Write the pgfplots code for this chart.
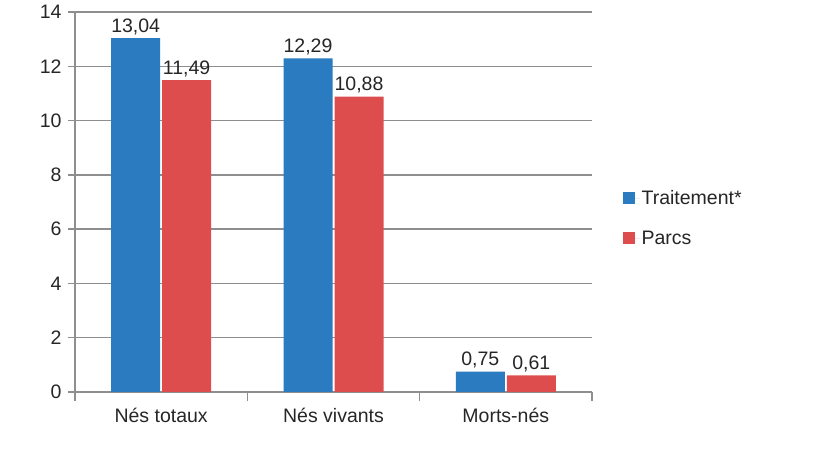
\documentclass[border=0pt]{standalone}
\usepackage{pgfplots}
\pgfplotsset{compat=1.18}
\usepackage{fontspec}
\setmainfont{Liberation Sans}
\definecolor{cblue}{HTML}{2A7BC0}
\definecolor{cred}{HTML}{DE4D4E}
\definecolor{cgrid}{HTML}{8E8E8E}
\begin{document}
\begin{tikzpicture}[x=1pt,y=1pt]
\path[use as bounding box] (0,0) rectangle (820,461);
\begin{axis}[
  at={(75pt,69pt)}, anchor=south west,
  scale only axis, width=517pt, height=380pt,
  ybar, bar width=49pt,
  xmin=-0.5, xmax=2.5, ymin=0, ymax=14,
  xtick={0,1,2}, xticklabels={Nés totaux, Nés vivants, Morts-nés},
  minor xtick={-0.5,0.5,1.5,2.5},
  major x tick style={draw=none},
  minor x tick style={draw=cgrid, line width=1.3pt},
  minor tick length=9pt,
  ytick={0,2,...,14},
  major tick length=7pt,
  tick align=outside,
  ytick style={draw=cgrid, line width=1.3pt},
  axis x line*=bottom, axis y line*=left,
  axis line style={draw=cgrid, line width=1.3pt, -},
  ymajorgrids, grid style={draw=cgrid, line width=1.3pt},
  tick label style={font=\fontsize{19.5}{22}\selectfont, text=black!85},
  /pgf/number format/assume math mode=true,
  yticklabel style={xshift=-3pt},
  xticklabel style={yshift=-6pt},
  nodes near coords,
  nodes near coords style={font=\fontsize{19.5}{22}\selectfont, text=black!85, /pgf/number format/.cd, fixed, fixed zerofill, precision=2, use comma, assume math mode=true},
  legend style={at={(1.053,0.458)}, anchor=west, draw=none, font=\fontsize{19.5}{22}\selectfont, row sep=21pt, text=black!85},
  legend cell align=left,
  legend image code/.code={\fill[#1,draw=none] (0pt,-6pt) rectangle (12pt,6pt); \path (0pt,0pt) -- (17pt,0pt);},
]
\addplot[fill=cblue, draw=none] coordinates {(0,13.04) (1,12.29) (2,0.75)};
\addplot[fill=cred, draw=none] coordinates {(0,11.49) (1,10.88) (2,0.61)};
\legend{Traitement*, Parcs}
\end{axis}
\end{tikzpicture}
\end{document}
